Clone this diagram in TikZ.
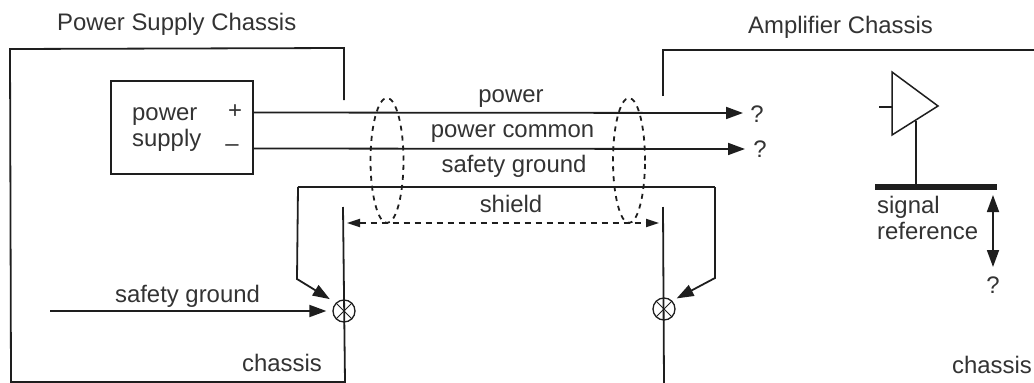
\documentclass[tikz,border=0pt]{standalone}
\usepackage{fontspec}
\setmainfont{Liberation Sans}
\usetikzlibrary{arrows.meta,shapes.geometric}
\definecolor{ink}{HTML}{1E1E1E}
\definecolor{txt}{HTML}{333333}
\tikzset{
  wire/.style={draw=ink,line width=1.8pt,line join=miter},
  conn/.style={wire,-{Triangle[length=17pt,width=12pt]}},
  lbl/.style={inner sep=0pt,text=txt,anchor=base,font=\fontsize{23.9}{27}\selectfont},
  lblw/.style={lbl,anchor=base west},
  loop/.style={draw=ink,line width=1.8pt,dash pattern=on 5pt off 5pt},
  shieldline/.style={draw=ink,line width=1.8pt,dash pattern=on 6pt off 5pt,
     {Triangle[length=13pt,width=8pt]}-{Triangle[length=13pt,width=8pt]}},
  bond/.style={draw=ink,line width=1.3pt,circle,minimum size=22pt,inner sep=0pt}
}
\begin{document}
\begin{tikzpicture}[x=1pt,y=-1pt]
\useasboundingbox (0,0) rectangle (1034,383);
% titles
\node[lblw] (t1) at (57,30) {Power Supply Chassis};
\node[lblw] (t2) at (748,33) {Amplifier Chassis};
% chassis coordinates
\coordinate (pa) at (344,100);
\coordinate (pb) at (344,48);
\coordinate (pc) at (10,49);
\coordinate (pd) at (11,382);
\coordinate (pe) at (345,382);
\coordinate (pf) at (343,207);
\coordinate (aa) at (663,96);
\coordinate (ab) at (663,50);
\coordinate (ac) at (1034,50);
\coordinate (af) at (663,207);
\coordinate (ag) at (664,383);
\draw[wire] (pa) -- (pb) -- (pc) -- (pd) -- (pe) -- (pf);
\draw[wire] (aa) -- (ab) -- (ac);
\draw[wire] (af) -- (ag);
% power supply box
\node[draw=ink,line width=1.8pt,minimum width=142pt,minimum height=93pt,inner sep=0pt] (ps) at (182,127.5) {};
\node[lblw] (pw) at (132,120) {power};
\node[lblw] (su) at (132,146.5) {supply};
\node[lbl,anchor=center] (plus) at (235,112) {+};
\node[lbl,anchor=center] (minus) at (232,148) {--};
% supply lines
\coordinate (p1) at (253,112.5);
\coordinate (p2) at (253,148.5);
\coordinate (q1) at (743,113);
\coordinate (q2) at (745,149);
\draw[conn] (p1) -- (q1);
\draw[conn] (p2) -- (q2);
\node[lbl] (q1t) at (757,122) {?};
\node[lbl] (q2t) at (760,157) {?};
% cable labels
\node[lbl] (l1) at (511,102) {power};
\node[lbl] (l2) at (512.5,137) {power common};
\node[lbl] (l3) at (514,172.3) {safety ground};
\node[lbl] (l4) at (511,212.7) {shield};
% bonds
\node[bond] (b1) at (344,311) {};
\node[bond] (b2) at (664,309) {};
\foreach \b in {b1,b2}{
  \draw[ink,line width=1pt] (\b.north west) -- (\b.south east);
  \draw[ink,line width=1pt] (\b.north east) -- (\b.south west);
}
% safety ground wire
\coordinate (s1) at (297,279);
\coordinate (s2) at (298,187);
\coordinate (s3) at (715,187);
\coordinate (s4) at (715,278);
\draw[conn,shorten >=7pt] (s2) -- (s1) -- (b1.north west);
\draw[wire] (s2) -- (s3);
\draw[conn,shorten >=5pt] (s3) -- (s4) -- (b2.north east);
% shield
\draw[shieldline] (pf|-0,223) ++(4,0) -- ([xshift=-4pt]af|-0,223);
% cable loops
\node[loop,ellipse,minimum width=33pt,minimum height=125pt,inner sep=0pt] (e1) at (387,160.5) {};
\node[loop,ellipse,minimum width=32pt,minimum height=125pt,inner sep=0pt] (e2) at (629,160.5) {};
% incoming safety ground
\coordinate (g0) at (50,311);
\draw[conn,shorten >=6pt] (g0) -- (b1.west);
\node[lbl] (g1) at (187.5,302) {safety ground};
\node[lbl] (c1) at (282,371) {chassis};
\node[lbl] (c2) at (992,373) {chassis};
% amplifier
\coordinate (tr1) at (892,72);
\coordinate (tr2) at (938,106);
\coordinate (tr3) at (892,135);
\coordinate (ti) at (879,107);
\coordinate (ts) at (916,121);
\draw[wire,line width=1.5pt] (tr1) -- (tr2) -- (tr3) -- cycle;
\draw[wire,line width=1.5pt] (ti) -- (ti-|tr1);
\coordinate (bl) at (875,187);
\coordinate (br) at (997,187);
\draw[ink,line width=6pt] (bl) -- (br);
\draw[wire] (ts) -- (ts|-bl);
\node[lblw] (sg) at (877,213) {signal};
\node[lblw] (rf) at (877,239) {reference};
\coordinate (d1) at (993,195);
\coordinate (d2) at (993,267);
\draw[wire,{Triangle[length=17pt,width=12pt]}-{Triangle[length=17pt,width=12pt]}] (d1) -- (d2);
\node[lbl] (dq) at (993,293) {?};
\end{tikzpicture}
\end{document}
